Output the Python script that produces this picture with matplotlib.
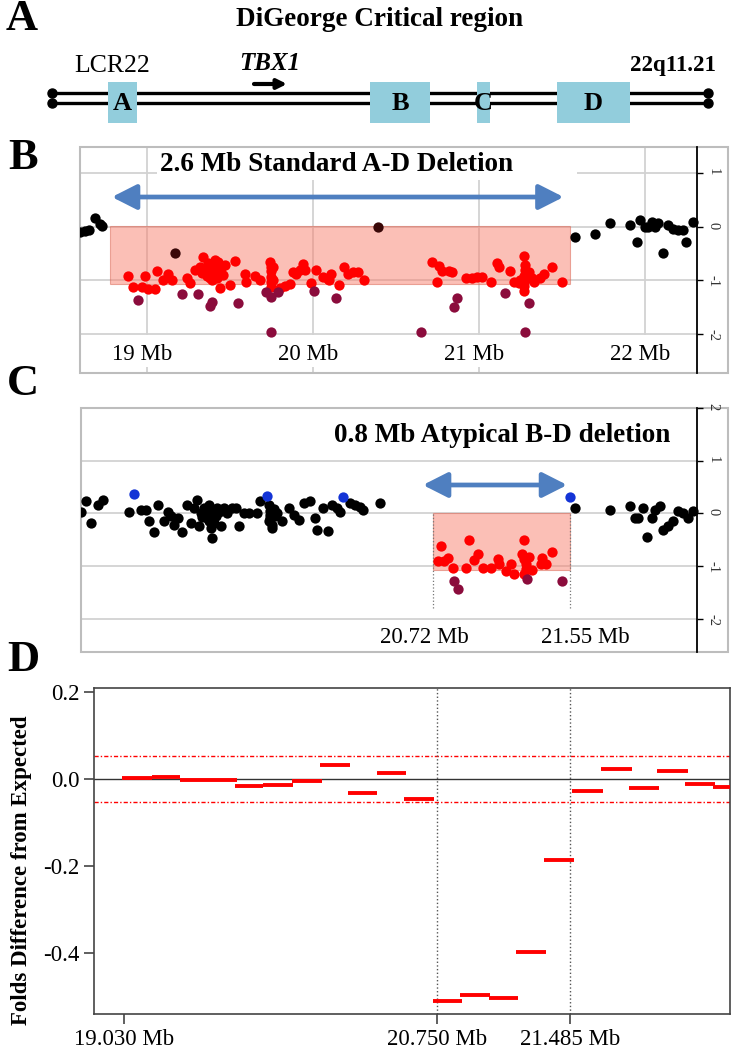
import matplotlib.pyplot as plt
from matplotlib.patches import Rectangle

plt.rcParams['font.family'] = ['Liberation Serif', 'DejaVu Serif']
plt.rcParams['axes.unicode_minus'] = False

W, H = 753, 1050

# ---- panel A: schematic of the 22q11.21 LCR22 blocks (schematic units = pixels)
lcr_labels = ['A', 'B', 'C', 'D']
lcr_start = [108, 370, 477, 557]
lcr_end = [137, 430, 490, 630]
chrom_start, chrom_end = 52, 708

# ---- panel B: standard A-D deletion (Mb, log2 ratio)
b_black_x = [18.60, 18.63, 18.65, 18.69, 18.72, 18.73,
             21.58, 21.70, 21.79, 21.91, 21.97, 21.95, 22.00, 22.02, 22.04, 22.06,
             22.08, 22.11, 22.14, 22.17, 22.20, 22.23, 22.25, 22.29]
b_black_y = [-0.09, -0.07, -0.06, 0.16, 0.06, 0.01,
             -0.18, -0.13, 0.08, 0.04, 0.13, -0.29, 0.00, 0.00, 0.10, 0.00,
             0.07, -0.49, 0.04, -0.04, -0.06, -0.06, -0.29, 0.10]
b_dark_x = [19.17, 20.39]
b_dark_y = [-0.49, 0.00]
b_red_x = [18.89, 18.92, 18.97, 18.99, 19.01, 19.05, 19.06, 19.10, 19.13, 19.15,
           19.24, 19.26, 19.29, 19.32, 19.34, 19.35, 19.37, 19.38, 19.40, 19.43,
           19.42, 19.45, 19.47, 19.44, 19.50, 19.53, 19.59, 19.36, 19.38, 19.39,
           19.41, 19.36, 19.40, 19.42, 19.37, 19.44, 19.33, 19.39, 19.41, 19.46,
           19.60, 19.65, 19.68, 19.74, 19.75, 19.75, 19.75, 19.75, 19.75, 19.76,
           19.76, 19.80, 19.83, 19.86, 19.88, 19.90, 19.92, 19.94, 19.95, 19.99,
           20.02, 20.06, 20.09, 20.10, 20.11, 20.16, 20.19, 20.21, 20.24, 20.27,
           20.31,
           20.72, 20.76, 20.78, 20.82, 20.84, 20.75, 20.92, 20.96, 20.99, 21.02,
           21.07, 21.11, 21.12, 21.19, 21.21, 21.24, 21.27, 21.28, 21.28, 21.27,
           21.28, 21.27, 21.27, 21.30, 21.32, 21.33, 21.37, 21.39, 21.44, 21.50,
           21.25]
b_red_y = [-0.92, -1.12, -1.12, -0.92, -1.16, -1.16, -0.82, -0.99, -0.88, -1.00,
           -0.96, -1.05, -0.80, -0.74, -0.56, -0.83, -0.67, -0.96, -0.83, -0.65,
           -0.96, -0.77, -0.71, -1.15, -1.08, -0.64, -0.88, -0.78, -0.88, -0.72,
           -0.90, -0.92, -0.78, -0.72, -0.84, -0.86, -0.86, -1.00, -0.62, -0.90,
           -1.02, -0.92, -0.99, -0.65, -0.74, -0.83, -0.93, -1.02, -1.13, -0.74,
           -0.99, -1.15, -1.10, -1.07, -0.85, -0.87, -0.80, -0.70, -0.81, -1.05,
           -0.80, -0.94, -0.98, -0.99, -0.87, -1.08, -0.74, -0.88, -0.85, -0.85,
           -0.99,
           -0.65, -0.73, -0.82, -0.83, -0.85, -1.02, -0.95, -0.96, -0.94, -0.94,
           -1.02, -0.67, -0.74, -0.83, -1.02, -1.05, -0.54, -0.71, -0.80, -0.92,
           -0.99, -1.10, -1.19, -0.85, -0.96, -1.02, -0.96, -0.88, -0.74, -1.02,
           -0.99]
b_maroon_x = [18.95, 19.21, 19.31, 19.39, 19.38, 19.55, 19.72, 19.75, 19.79, 20.01,
              20.14, 19.75, 20.65, 20.87, 20.85, 21.16, 21.30, 21.28]
b_maroon_y = [-1.36, -1.26, -1.26, -1.41, -1.48, -1.43, -1.21, -1.30, -1.21, -1.19,
              -1.33, -1.96, -1.96, -1.33, -1.50, -1.23, -1.43, -1.96]
b_del = (18.78, 21.55)
b_ticks = [19, 20, 21, 22]
b_tick_labels = ['19 Mb', '20 Mb', '21 Mb', '22 Mb']

# ---- panel C: atypical B-D deletion
c_black_x = [18.60, 18.63, 18.66, 18.70, 18.73, 18.89, 18.96, 18.99, 19.01, 19.04,
             19.06, 19.10, 19.12, 19.14, 19.16, 19.18, 19.21, 19.24, 19.26, 19.28,
             19.30, 19.31, 19.32, 19.34, 19.36, 19.37, 19.38, 19.39, 19.40, 19.42,
             19.44, 19.46, 19.48, 19.51, 19.53, 19.55, 19.58, 19.61, 19.66, 19.68,
             19.73, 19.74, 19.74, 19.75, 19.75, 19.78, 19.81, 19.85, 19.88, 19.91,
             19.94, 19.98, 20.01, 20.02, 20.06, 20.09, 20.11, 20.14, 20.16, 20.22,
             20.25, 20.28, 20.30, 20.40, 19.36, 19.38, 19.41, 19.43, 19.37, 19.40,
             19.33, 19.74, 19.76, 19.73, 19.77,
             21.58, 21.79, 21.91, 21.94, 21.96, 21.99, 22.01, 22.04, 22.06, 22.09,
             22.11, 22.14, 22.17, 22.20, 22.23, 22.26, 22.29]
c_black_y = [0.02, 0.23, -0.18, 0.17, 0.26, 0.02, 0.07, 0.07, -0.15, -0.35,
             0.17, -0.14, 0.02, -0.04, -0.21, -0.09, -0.35, 0.17, -0.18, 0.10,
             0.26, -0.24, 0.01, 0.10, -0.09, 0.16, -0.28, -0.46, 0.01, 0.10,
             -0.23, 0.10, 0.01, 0.10, 0.10, -0.24, 0.01, 0.01, 0.01, 0.23,
             0.16, 0.04, -0.09, -0.21, -0.28, 0.01, -0.14, 0.10, -0.02, -0.12,
             0.19, 0.23, -0.09, -0.31, 0.10, -0.34, 0.16, 0.10, 0.02, 0.19,
             0.17, 0.13, 0.07, 0.19, 0.04, 0.07, -0.05, 0.02, -0.14, -0.18,
             -0.06, -0.02, 0.08, -0.15, -0.05,
             0.10, 0.06, 0.15, -0.08, -0.08, 0.11, -0.45, -0.09, 0.07, 0.15,
             -0.31, -0.24, -0.14, 0.04, 0.01, -0.09, 0.05]
c_blue_x = [18.92, 19.72, 20.18, 21.55]
c_blue_y = [0.36, 0.34, 0.32, 0.31]
c_red_x = [20.77, 20.75, 20.79, 20.81, 20.84, 20.92, 20.94, 20.97, 20.99, 21.02,
           21.07, 21.11, 21.12, 21.16, 21.19, 21.21, 21.27, 21.26, 21.27, 21.28,
           21.28, 21.27, 21.30, 21.32, 21.37, 21.38, 21.40, 21.44]
c_red_y = [-0.62, -0.90, -0.90, -0.84, -1.03, -1.03, -0.51, -0.89, -0.76, -1.03,
           -1.03, -0.87, -0.95, -1.09, -0.96, -1.14, -0.51, -0.76, -0.87, -0.96,
           -1.06, -1.15, -0.83, -1.08, -0.95, -0.85, -0.95, -0.74]
c_maroon_x = [20.85, 20.87, 21.29, 21.50]
c_maroon_y = [-1.29, -1.43, -1.24, -1.29]
c_del = (20.72, 21.55)
c_tick_labels = ['20.72 Mb', '21.55 Mb']

# ---- panel D: segments, folds difference from expected
seg_start = [19.019, 19.184, 19.338, 19.492, 19.640, 19.794, 19.953, 20.107, 20.261, 20.420,
             20.568, 20.728, 20.876, 21.036, 21.189, 21.343, 21.497, 21.656, 21.810, 21.964,
             22.118, 22.272]
seg_end = [19.184, 19.338, 19.492, 19.650, 19.794, 19.958, 20.118, 20.272, 20.420, 20.579,
           20.733, 20.892, 21.041, 21.200, 21.354, 21.508, 21.667, 21.826, 21.975, 22.134,
           22.283, 22.437]
seg_val = [0.003, 0.005, -0.002, -0.002, -0.016, -0.013, -0.005, 0.031, -0.033, 0.014,
           -0.046, -0.510, -0.497, -0.503, -0.398, -0.186, -0.028, 0.024, -0.020, 0.019,
           -0.012, -0.018]
d_ticks = [19.030, 20.750, 21.485]
d_tick_labels = ['19.030 Mb', '20.750 Mb', '21.485 Mb']
d_yticks = [0.2, 0.0, -0.2, -0.4]
d_threshold = 0.052

RED = '#ff0000'
MAROON = '#8b0c3c'
BLUE_ARROW = '#4f7fc0'
GRID = '#d2d2d2'
DOT = 55


def frac(px, py):
    return px / W, 1 - py / H


fig = plt.figure(figsize=(W / 100, H / 100), dpi=100)

# ---------------- panel A ----------------
axA = fig.add_axes([0, 1 - 135 / H, 1, 135 / H])
axA.set_xlim(0, W)
axA.set_ylim(135, 0)
axA.axis('off')
axA.text(380, 20, 'DiGeorge Critical region', ha='center', va='center',
         fontsize=19.5, fontweight='bold')
for yl in (93, 103):
    axA.plot([chrom_start, chrom_end], [yl, yl], color='black', lw=2.4, zorder=2)
    axA.plot([chrom_start, chrom_end], [yl, yl], 'o', color='black', ms=6.5, zorder=3)
for lab, s, e in zip(lcr_labels, lcr_start, lcr_end):
    axA.add_patch(Rectangle((s, 82), e - s, 41, facecolor='#92cddc',
                            edgecolor='none', zorder=4))
    axA.text((s + e) / 2, 104, lab, ha='center', va='center', fontsize=19,
             fontweight='bold', zorder=5)
axA.text(112, 66, 'LCR22', ha='center', va='center', fontsize=18.5)
axA.text(270, 63, 'TBX1', ha='center', va='center', fontsize=18,
         fontweight='bold', style='italic')
axA.annotate('', xy=(287, 84), xytext=(254, 84),
             arrowprops=dict(arrowstyle='-|>', lw=3, color='black',
                             mutation_scale=14, shrinkA=0, shrinkB=0))
axA.text(673, 66, '22q11.21', ha='center', va='center', fontsize=16.5,
         fontweight='bold')


def cnv_axes(rect, ylim, yticks):
    ax = fig.add_axes(rect)
    ax.set_xlim(18.598, 22.5)
    ax.set_ylim(*ylim)
    for side in ('top', 'left', 'bottom'):
        ax.spines[side].set_visible(False)
    ax.spines['right'].set_position(('data', 22.313))
    ax.spines['right'].set_color('black')
    ax.spines['right'].set_linewidth(1.3)
    ax.add_patch(Rectangle((0, 0), 1, 1, transform=ax.transAxes, fill=False,
                           edgecolor='#bdbdbd', lw=1.5, clip_on=False))
    ax.yaxis.tick_right()
    ax.set_yticks(yticks)
    ax.set_yticklabels([str(t) for t in yticks])
    ax.tick_params(axis='y', length=4, width=1, labelsize=10.5, labelcolor='#333333',
                   labelrotation=-90, pad=3)
    ax.set_xticks([])
    ax.hlines([t for t in yticks if t < ylim[1] - 0.1], 18.598, 22.313,
              color=GRID, lw=1.3, zorder=0)
    return ax


# ---------------- panel B ----------------
axB = cnv_axes([80 / W, 1 - 373 / H, 648 / W, 226 / H], (-2.73, 1.495), [1, 0, -1, -2])
axB.vlines(b_ticks, -2.02, 1.6, color=GRID, lw=1.3, zorder=0)
axB.vlines(b_ticks[:3], -2.62, -2.73, color=GRID, lw=1.3, zorder=0)
axB.add_patch(Rectangle((19.06, 0.88), 2.53, 0.8, facecolor='white',
                        edgecolor='none', zorder=0.5))
axB.add_patch(Rectangle((b_del[0], -1.07), b_del[1] - b_del[0], 1.09,
                        facecolor='#f8806e', alpha=0.5, edgecolor='#d9604e',
                        lw=0.8, zorder=1))
axB.scatter(b_black_x, b_black_y, s=DOT, color='black', zorder=3, lw=0)
axB.scatter(b_dark_x, b_dark_y, s=DOT, color='#3a0808', zorder=3, lw=0)
axB.scatter(b_red_x, b_red_y, s=DOT, color=RED, zorder=3, lw=0)
axB.scatter(b_maroon_x, b_maroon_y, s=DOT, color=MAROON, zorder=3, lw=0)
for t, lab in zip(b_ticks, b_tick_labels):
    axB.text(t - 0.03, -2.38, lab, ha='center', va='center', fontsize=16.5)
axB.text(20.14, 1.16, '2.6 Mb Standard A-D Deletion', ha='center', va='center',
         fontsize=19.5, fontweight='bold', zorder=4)
axB.annotate('', xy=(18.79, 0.56), xytext=(21.51, 0.56),
             arrowprops=dict(arrowstyle='<|-|>,head_length=0.75,head_width=0.38',
                             lw=3.4, color=BLUE_ARROW, mutation_scale=20,
                             shrinkA=0, shrinkB=0), zorder=4)

# ---------------- panel C ----------------
axC = cnv_axes([81 / W, 1 - 652 / H, 647 / W, 244 / H], (-2.627, 1.951), [2, 1, 0, -1, -2])
axC.add_patch(Rectangle((c_del[0], -1.07), c_del[1] - c_del[0], 1.08,
                        facecolor='#f8806e', alpha=0.5, edgecolor='#d9604e',
                        lw=0.8, zorder=1))
axC.vlines(c_del, -1.8, 0.0, color='#777777', lw=0.9, linestyle=':', zorder=1)
axC.scatter(c_black_x, c_black_y, s=DOT, color='black', zorder=3, lw=0)
axC.scatter(c_blue_x, c_blue_y, s=DOT, color='#1434d6', zorder=3, lw=0)
axC.scatter(c_red_x, c_red_y, s=DOT, color=RED, zorder=3, lw=0)
axC.scatter(c_maroon_x, c_maroon_y, s=DOT, color=MAROON, zorder=3, lw=0)
axC.text(c_del[0] - 0.05, -2.35, c_tick_labels[0], ha='center', va='center', fontsize=16.5)
axC.text(c_del[1] + 0.09, -2.35, c_tick_labels[1], ha='center', va='center', fontsize=16.5)
axC.text(21.14, 1.48, '0.8 Mb Atypical B-D deletion', ha='center', va='center',
         fontsize=19.5, fontweight='bold', zorder=4)
axC.annotate('', xy=(20.66, 0.54), xytext=(21.53, 0.54),
             arrowprops=dict(arrowstyle='<|-|>,head_length=0.75,head_width=0.38',
                             lw=3.4, color=BLUE_ARROW, mutation_scale=20,
                             shrinkA=0, shrinkB=0), zorder=4)

# ---------------- panel D ----------------
axD = fig.add_axes([94 / W, 1 - 1014 / H, 636 / W, 326 / H])
axD.set_xlim(18.865, 22.364)
axD.set_ylim(-0.54, 0.209)
for sp in axD.spines.values():
    sp.set_color('#444444')
    sp.set_linewidth(1.2)
axD.axhline(0, color='#333333', lw=1, zorder=1)
for t in (d_threshold, -d_threshold):
    axD.axhline(t, color=RED, lw=1, linestyle=(0, (3, 1.5, 1, 1.5)), zorder=1)
axD.vlines(d_ticks[1:], -0.54, 0.209, color='#555555', lw=1, linestyle=':', zorder=1)
axD.hlines(seg_val, seg_start, seg_end, color=RED, lw=2.8, zorder=3)
axD.set_xticks(d_ticks)
axD.set_xticklabels(d_tick_labels)
axD.set_yticks(d_yticks)
axD.set_yticklabels(['%.1f' % v for v in d_yticks])
axD.tick_params(axis='both', labelsize=16.5, length=7, width=1.2, color='#444444')
fig.text(*frac(22, 870), 'Folds Difference from Expected', rotation=90,
         ha='center', va='center', fontsize=16.5, fontweight='bold')

# panel letters
for lab, (px, py) in zip('ABCD', [(22, 19), (23, 158), (23, 384), (23, 660)]):
    fig.text(*frac(px, py), lab, ha='center', va='center', fontsize=32,
             fontweight='bold')

fig.savefig('out.png', dpi=100)
